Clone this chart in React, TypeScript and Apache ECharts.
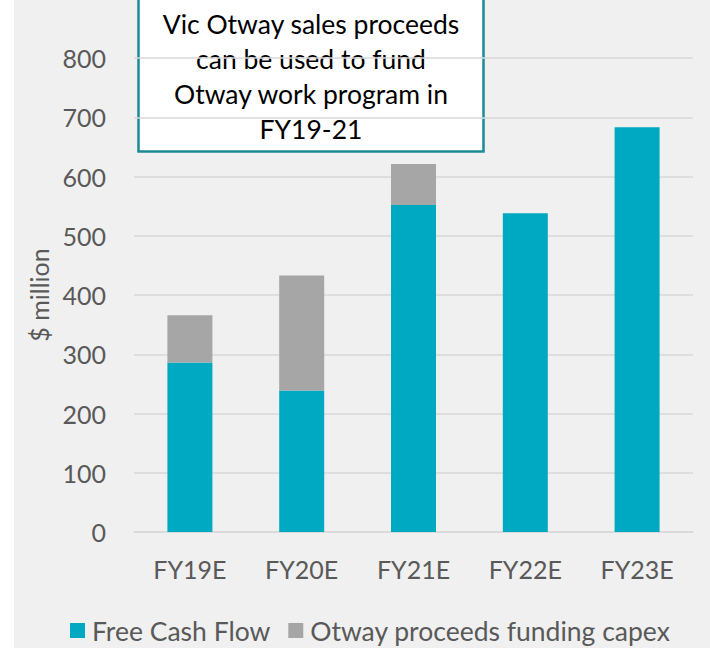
import React, { useEffect, useRef } from "react";
import * as echarts from "echarts";

const categories = ["FY19E", "FY20E", "FY21E", "FY22E", "FY23E"];
const freeCashFlow = [286, 239, 552, 538, 683];
const otwayProceeds = [80, 194, 69, 0, 0];
const yTicks = [0, 100, 200, 300, 400, 500, 600, 700, 800];
const calloutLines = [
  "Vic Otway sales proceeds",
  "can be used to fund",
  "Otway work program in",
  "FY19-21",
];

export default function App() {
  const ref = useRef<HTMLDivElement>(null);
  useEffect(() => {
    if (!ref.current) return;
    const chart = echarts.init(ref.current, null, { renderer: "svg" });
    const font = "Lato, 'Open Sans', sans-serif";
    chart.setOption({
      animation: false,
      backgroundColor: "#ffffff",
      textStyle: { fontFamily: font },
      grid: { left: 134, right: 17, top: 58, bottom: 116 },
      legend: {
        left: 70,
        top: 617,
        padding: 0,
        itemWidth: 15,
        itemHeight: 15,
        itemGap: 18,
        icon: "rect",
        textStyle: { fontSize: 26.5, color: "#595959", fontFamily: font, padding: [0, 0, 0, 2] },
        data: ["Free Cash Flow", "Otway proceeds funding capex"],
      },
      xAxis: {
        type: "category",
        data: categories,
        axisTick: { show: false },
        axisLine: { lineStyle: { color: "#d9d9d9", width: 1.5 } },
        axisLabel: { fontSize: 25, color: "#595959", margin: 24, fontFamily: font },
      },
      yAxis: {
        type: "value",
        min: yTicks[0],
        max: yTicks[yTicks.length - 1],
        interval: 100,
        name: "$ million",
        nameLocation: "middle",
        nameRotate: 90,
        nameGap: 83,
        nameTextStyle: { fontSize: 25, color: "#595959", fontFamily: font },
        axisLine: { show: false },
        axisTick: { show: false },
        axisLabel: { fontSize: 25, color: "#595959", margin: 28, fontFamily: font },
        splitLine: { lineStyle: { color: "#d9d9d9", width: 1.5 } },
      },
      series: [
        {
          name: "Free Cash Flow",
          type: "bar",
          stack: "total",
          barWidth: 45,
          itemStyle: { color: "#00a9c2" },
          data: freeCashFlow,
        },
        {
          name: "Otway proceeds funding capex",
          type: "bar",
          stack: "total",
          barWidth: 45,
          itemStyle: { color: "#a6a6a6" },
          data: otwayProceeds,
        },
      ],
      graphic: [
        {
          type: "rect",
          z: -10,
          silent: true,
          shape: { x: 14, y: 0, width: 696, height: 648 },
          style: { fill: "#f0f0f0" },
        },
        {
          type: "group",
          z: 100,
          children: [
            {
              type: "rect",
              shape: { x: 138.5, y: -5, width: 345, height: 156.5 },
              style: { fill: "#ffffff", stroke: "#1b8a97", lineWidth: 2.5 },
            },
            ...calloutLines.map((t, i) => ({
              type: "text",
              x: 311,
              y: 24 + i * 35,
              style: {
                text: t,
                fill: "#000000",
                font: `26.5px ${font}`,
                align: "center",
                verticalAlign: "middle",
              },
            })),
          ],
        },
      ],
    });
    return () => chart.dispose();
  }, []);
  return (
    <div
      ref={ref}
      style={{ position: "fixed", left: 0, top: 0, width: 710, height: 648 }}
    />
  );
}
